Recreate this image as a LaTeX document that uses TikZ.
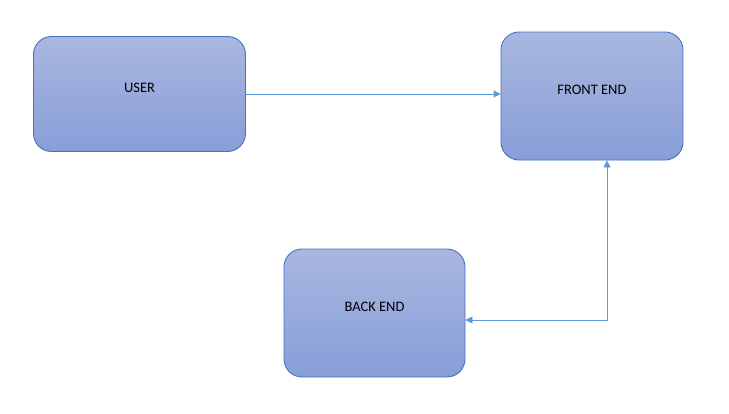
\documentclass[tikz,border=0pt]{standalone}
\usepackage{fontspec}
\setmainfont{Carlito}
\usetikzlibrary{arrows.meta}
\definecolor{boxtop}{HTML}{A9B7E0}
\definecolor{boxbot}{HTML}{889ED8}
\definecolor{boxline}{HTML}{4472C4}
\definecolor{arr}{HTML}{5B9BD5}
\begin{document}
\begin{tikzpicture}[x=1pt,y=-1pt,
  blk/.style={draw=boxline,line width=0.9pt,rounded corners=18pt,top color=boxtop,bottom color=boxbot},
  lbl/.style={font=\fontsize{14.5}{16}\selectfont,text=black,yshift=6pt},
  conn/.style={draw=arr,line width=0.9pt,-{Triangle[length=7pt,width=7pt]}}]
\useasboundingbox (0,0) rectangle (729,413);
\node[blk,minimum width=212pt,minimum height=115pt,label={[lbl]center:USER}] (user) at (139.5,94) {};
\node[blk,minimum width=182pt,minimum height=128pt,label={[lbl]center:FRONT END}] (front) at (592,96) {};
\node[blk,minimum width=181pt,minimum height=128pt,label={[lbl]center:BACK END}] (back) at (374.5,313) {};
\draw[conn] (user.east |- 0,94) -- (front.west |- 0,94);
\coordinate (corner) at (607,320);
\draw[conn,{Triangle[length=7pt,width=7pt]}-{Triangle[length=7pt,width=7pt]}] (back.east |- 0,320) -- (corner) -- (front.south -| 607,0);
\end{tikzpicture}
\end{document}
